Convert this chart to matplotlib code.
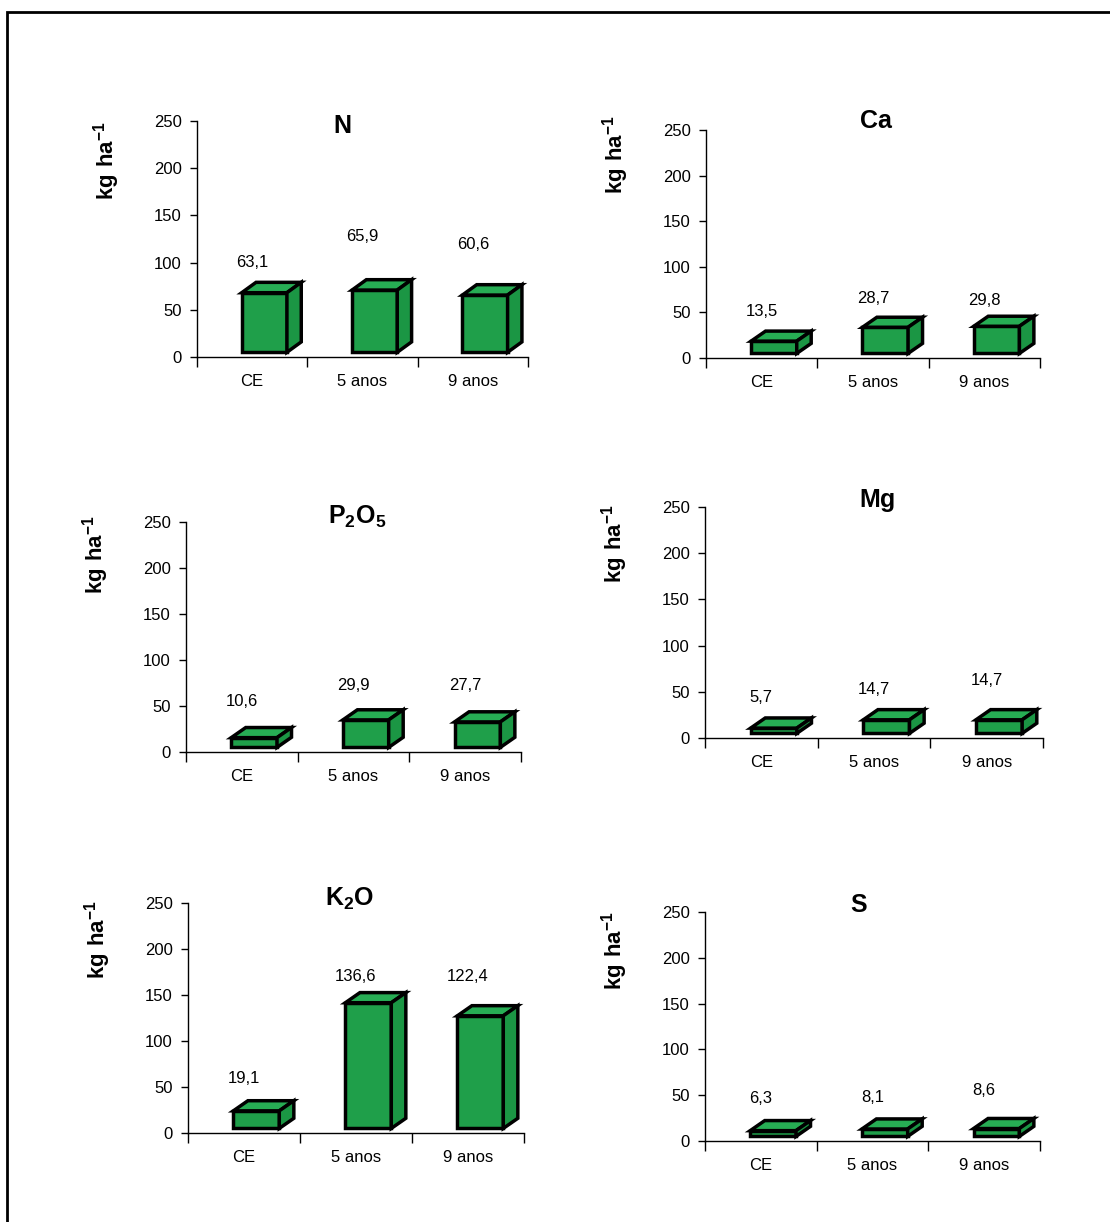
import numpy as np
import matplotlib
matplotlib.use("Agg")
import matplotlib.pyplot as plt
from matplotlib.patches import Polygon, Rectangle

plt.rcParams['font.family'] = ['Liberation Sans', 'DejaVu Sans']
plt.rcParams['mathtext.fontset'] = 'custom'
plt.rcParams['mathtext.rm'] = 'Liberation Sans'
plt.rcParams['mathtext.bf'] = 'Liberation Sans:bold'

# data
categories = ['CE', '5 anos', '9 anos']
nutrients = ['N', 'Ca', 'P2O5', 'Mg', 'K2O', 'S']
titles = ['$\\mathbf{N}$', '$\\mathbf{Ca}$', '$\\mathbf{P_2O_5}$',
          '$\\mathbf{Mg}$', '$\\mathbf{K_2O}$', '$\\mathbf{S}$']
N = [63.1, 65.9, 60.6]
Ca = [13.5, 28.7, 29.8]
P2O5 = [10.6, 29.9, 27.7]
Mg = [5.7, 14.7, 14.7]
K2O = [19.1, 136.6, 122.4]
S = [6.3, 8.1, 8.6]
values = [N, Ca, P2O5, Mg, K2O, S]
yticks = [0, 50, 100, 150, 200, 250]

# layout (pixels of the 1110x1222 canvas): left, right, y of 0, y of 250
W, H = 1110, 1222
boxes = [(197, 528, 357, 121), (706, 1040, 358, 130),
         (186, 521, 752, 522), (705, 1043, 738, 507),
         (188, 524, 1133, 903), (705, 1040, 1141, 912)]
title_xy = [(0.44, 0.98), (0.51, 1.04), (0.51, 1.02),
            (0.51, 1.03), (0.48, 1.02), (0.46, 1.03)]
ylab_y = [0.83, 0.89, 0.86, 0.84, 0.84, 0.83]
label_lift = [[37, 62, 59], [38, 37, 33], [44, 42, 45],
              [38, 38, 47], [40, 33, 48], [40, 39, 46]]

front_c = '#1f9f4a'
top_c = '#27ad54'
side_c = '#1b9644'
bw = 0.41      # front face width
shift = 0.11   # boxes sit a bit right of the category centre
dx, dy = 0.13, 11
base = 5

fig = plt.figure(figsize=(W / 100, H / 100), dpi=100)
fig.patches.append(Rectangle((7 / W, -0.1), 1.2, 1.1 - 12 / H,
                             transform=fig.transFigure, fill=False,
                             edgecolor='black', linewidth=2))

for k, vals in enumerate(values):
    l, r, y0, y250 = boxes[k]
    ax = fig.add_axes([l / W, 1 - y0 / H, (r - l) / W, (y0 - y250) / H])
    ax.set_xlim(-0.5, 2.5)
    ax.set_ylim(0, 250)
    for sp in ['top', 'right']:
        ax.spines[sp].set_visible(False)
    ax.spines['left'].set_linewidth(1.0)
    ax.spines['bottom'].set_linewidth(1.0)

    x = np.arange(len(categories)) + shift
    ax.bar(x, vals, width=bw, bottom=base, color=front_c,
           edgecolor='black', linewidth=2.5, zorder=3)
    for xi, v in zip(x, vals):
        x0, x1 = xi - bw / 2, xi + bw / 2
        top = base + v
        ax.add_patch(Polygon([(x0, top), (x0 + dx, top + dy),
                              (x1 + dx, top + dy), (x1, top)],
                             closed=True, facecolor=top_c, edgecolor='black',
                             linewidth=2.5, zorder=3, clip_on=False))
        ax.add_patch(Polygon([(x1, base), (x1 + dx, base + dy),
                              (x1 + dx, top + dy), (x1, top)],
                             closed=True, facecolor=side_c, edgecolor='black',
                             linewidth=2.5, zorder=3, clip_on=False))

    for i, v in enumerate(vals):
        ax.text(i, v + label_lift[k][i], f'{v:.1f}'.replace('.', ','),
                ha='center', va='center', fontsize=12)

    ax.set_yticks(yticks)
    ax.set_yticklabels([str(t) for t in yticks], fontsize=12)
    ax.tick_params(axis='y', direction='out', length=5, width=1, pad=6)
    ax.set_xticks(np.arange(len(categories)))
    ax.set_xticklabels(categories, fontsize=12)
    ax.tick_params(axis='x', which='major', length=0, pad=12)
    ax.set_xticks([-0.5, 0.5, 1.5, 2.5], minor=True)
    ax.tick_params(axis='x', which='minor', direction='out', length=7, width=1)

    ax.text(title_xy[k][0], title_xy[k][1], titles[k], transform=ax.transAxes,
            ha='center', va='center', fontsize=18)
    ax.text(-90 / (r - l), ylab_y[k], '$\\mathbf{kg\\ ha^{-1}}$',
            transform=ax.transAxes, rotation=90, ha='center', va='center',
            fontsize=16)

fig.savefig('out.png', dpi=100)
